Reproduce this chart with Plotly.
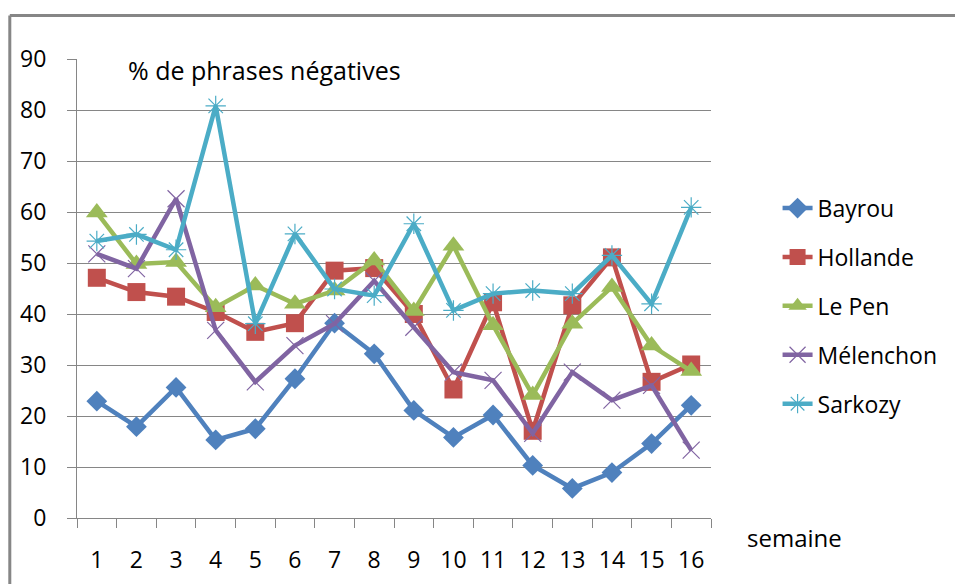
import plotly.graph_objects as go

weeks = [str(i) for i in range(1, 17)]

bayrou = [22.9, 17.9, 25.6, 15.3, 17.5, 27.3, 38.2, 32.2, 21.1, 15.8, 20.2, 10.3, 5.8, 8.9, 14.6, 22.1]
hollande = [47.1, 44.3, 43.4, 40.4, 36.5, 38.2, 48.5, 49.0, 40.0, 25.2, 42.3, 17.1, 41.7, 51.1, 26.7, 30.1]
lepen = [59.9, 49.8, 50.2, 41.3, 45.6, 42.0, 44.6, 50.5, 40.6, 53.4, 37.8, 24.1, 38.1, 45.3, 33.8, 28.8]
melenchon = [51.8, 48.9, 62.6, 36.8, 26.7, 33.8, 38.1, 46.5, 37.4, 28.6, 27.0, 16.6, 28.6, 23.1, 26.0, 13.3]
sarkozy = [54.3, 55.6, 52.6, 80.8, 38.1, 55.7, 44.9, 43.6, 57.7, 40.7, 44.0, 44.6, 44.0, 51.5, 42.0, 60.9]

series_names = ["Bayrou", "Hollande", "Le Pen", "Mélenchon", "Sarkozy"]
series_values = [bayrou, hollande, lepen, melenchon, sarkozy]
colors = ["#4F81BD", "#C0504D", "#9BBB59", "#8064A2", "#4BACC6"]
markers = [
    dict(symbol="diamond", size=16),
    dict(symbol="square", size=18),
    dict(symbol="triangle-up", size=19),
    dict(symbol="x-thin", size=17),
    dict(symbol="asterisk", size=17),
]

FONT = "Open Sans"
GRAY = "#868686"

fig = go.Figure()
for name, vals, col, mk in zip(series_names, series_values, colors, markers):
    m = dict(symbol=mk["symbol"], size=mk["size"], color=col)
    if mk["symbol"] in ("x-thin", "asterisk"):
        m["line"] = dict(color=col, width=1.2)
    fig.add_trace(go.Scatter(
        x=weeks, y=vals, name=name, mode="lines+markers",
        line=dict(color=col, width=4.5), marker=m,
        legendgroup=name, hoverinfo="skip",
    ))

fig.update_layout(
    width=955, height=584,
    margin=dict(l=77, r=235, t=59, b=66),
    paper_bgcolor="white", plot_bgcolor="white",
    font=dict(family=FONT, size=23, color="#000000"),
    showlegend=True,
    legend=dict(x=1.105, y=0.722, xanchor="left", yanchor="top",
                font=dict(family=FONT, size=23), tracegroupgap=16,
                bgcolor="rgba(0,0,0,0)"),
    xaxis=dict(type="category", range=[-0.5, 15.5], tickson="boundaries",
               ticks="outside", ticklen=9, automargin=False,
               tickcolor=GRAY, showline=True, linecolor=GRAY, linewidth=1,
               showgrid=False, tickfont=dict(family=FONT, size=23),
               ticklabelstandoff=21),
    yaxis=dict(range=[0, 90], dtick=10, ticks="outside", ticklen=9, tickcolor=GRAY,
               showline=True, linecolor=GRAY, linewidth=1, automargin=False,
               showgrid=True, gridcolor=GRAY, gridwidth=1, zeroline=False,
               tickfont=dict(family=FONT, size=23), ticklabelstandoff=16),
    annotations=[
        dict(text="% de phrases négatives", x=0.2955, y=0.9754, xref="paper", yref="paper",
             xanchor="center", yanchor="middle",
             showarrow=False, font=dict(family=FONT, size=25)),
        dict(text="semaine", x=1.132, y=-0.043, xref="paper", yref="paper",
             xanchor="center", yanchor="middle",
             showarrow=False, font=dict(family=FONT, size=24)),
    ],
    shapes=[
        dict(type="line", xref="paper", yref="paper", x0=-0.106, x1=1.6, y0=1.095, y1=1.095,
             line=dict(color=GRAY, width=3), layer="below"),
        dict(type="line", xref="paper", yref="paper", x0=-0.106, x1=-0.106, y0=-0.3, y1=1.095,
             line=dict(color=GRAY, width=3), layer="below"),
    ],
)

fig.write_html(
    "out.html",
    config={"displayModeBar": False, "staticPlot": True},
    post_script=(
        "document.body.style.margin='0';"
        "document.body.style.overflow='hidden';"
        "document.documentElement.style.overflow='hidden';"
    ),
)
